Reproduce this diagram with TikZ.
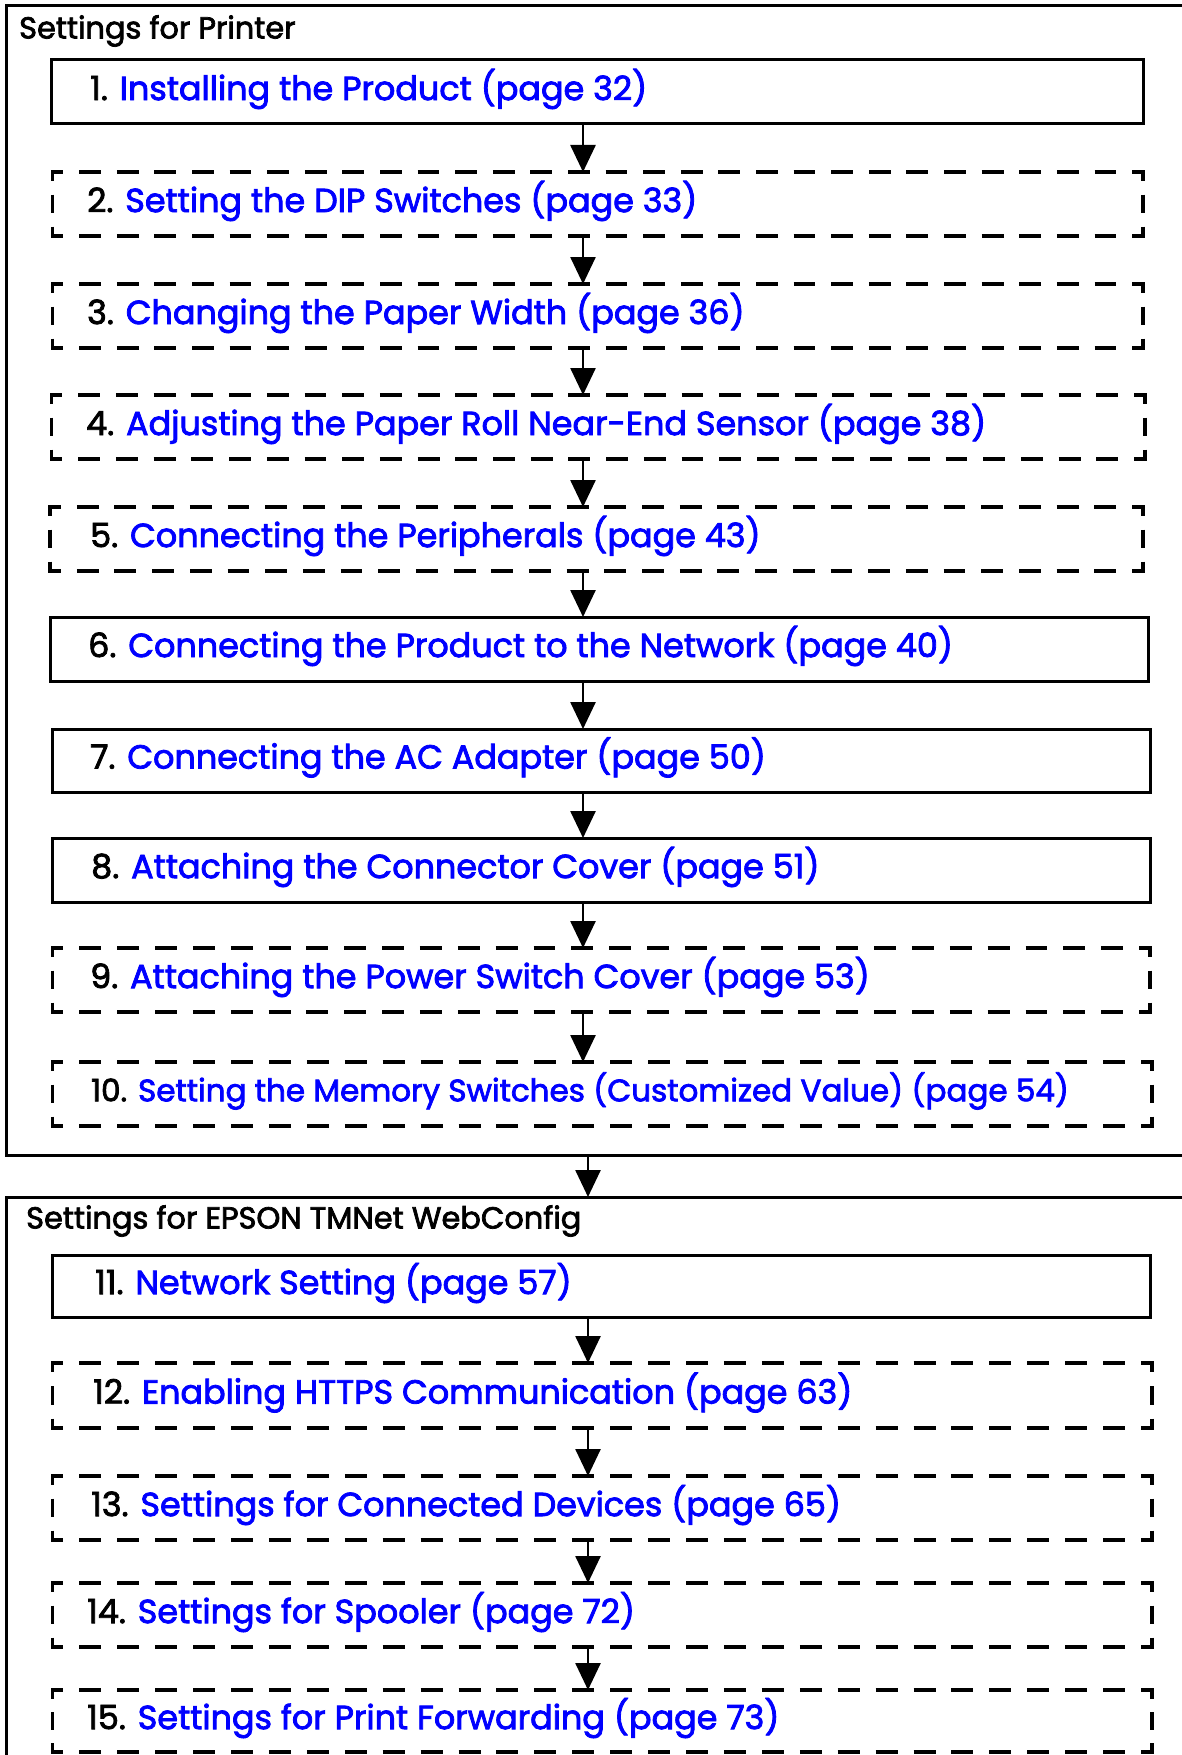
\documentclass[tikz,border=0pt]{standalone}
\usepackage{fontspec}
\setmainfont{Poppins}[FakeBold=2.4]
\usetikzlibrary{arrows.meta}
\definecolor{linkblue}{RGB}{0,0,255}
\newcommand\itemfnt{\fontsize{33.4}{40}\selectfont}
\newcommand\smallitemfnt{\fontsize{31}{36}\selectfont}
\newcommand\headfnt{\fontsize{30.4}{36}\selectfont}
\tikzset{
  x=1pt, y=-1pt,
  groupbox/.style={draw=black, line width=3pt, anchor=north west, inner sep=0pt, outer sep=0pt},
  boxshape/.style={anchor=north west, inner sep=0pt, outer sep=0pt},
  solidstep/.style={boxshape, draw=black, line width=3pt},
  edgeline/.style={draw=black, line width=3.2pt},
  steptext/.style={anchor=west, inner sep=0pt, font=\itemfnt},
  headtext/.style={anchor=west, inner sep=0pt, font=\headfnt},
  flowarrow/.style={draw=black, line width=2.6pt, -{Triangle[width=25pt,length=27pt]}},
}
% \mysolidframe{name}{x1}{y1}{w}{h}
\newcommand\mysolidframe[5]{%
  \node[solidstep, minimum width=#4pt, minimum height=#5pt] (#1) at (#2,#3) {};
}
% dashed side from (#1) to (#2) of length #3: half dash at each end
\newcommand\mydashside[3]{%
  \pgfmathsetmacro\nper{max(1,round(#3/38))}%
  \pgfmathsetmacro\per{#3/\nper}%
  \pgfmathsetmacro\don{\per*0.58}%
  \pgfmathsetmacro\doff{\per-\don}%
  \pgfmathsetmacro\dph{\don/2}%
  \draw[edgeline, dash pattern=on \don pt off \doff pt, dash phase=\dph pt] (#1) -- (#2);
}
% \mydashframe{name}{x1}{y1}{w}{h}
\newcommand\mydashframe[5]{%
  \node[boxshape, minimum width=#4pt, minimum height=#5pt] (#1) at (#2,#3) {};
  \mydashside{#1.north west}{#1.north east}{#4}
  \mydashside{#1.south west}{#1.south east}{#4}
  \mydashside{#1.north west}{#1.south west}{#5}
  \mydashside{#1.north east}{#1.south east}{#5}
  \draw[edgeline] ([xshift=9pt]#1.north west) -- (#1.north west) -- ([yshift=-8pt]#1.north west);
  \draw[edgeline] ([xshift=-9pt]#1.north east) -- (#1.north east) -- ([yshift=-8pt]#1.north east);
  \draw[edgeline] ([xshift=9pt]#1.south west) -- (#1.south west) -- ([yshift=8pt]#1.south west);
  \draw[edgeline] ([xshift=-9pt]#1.south east) -- (#1.south east) -- ([yshift=8pt]#1.south east);
}
% \mysteplabel{name}{textx offset}{number}{title}
\newcommand\mysteplabel[4]{%
  \node[steptext] (#1t) at ([xshift=#2pt,yshift=3pt]#1.west) {#3. \textcolor{linkblue}{#4}};
}
\begin{document}
\begin{tikzpicture}
\path[use as bounding box] (0,0) rectangle (1182,1755);
\clip (0,0) rectangle (1182,1755);
\fill[white] (0,0) rectangle (1182,1755);

\coordinate (ax1) at (583,0);
\coordinate (ax2) at (588,0);

% group 1
\node[groupbox, minimum width=1300pt, minimum height=1149pt] (g1) at (6,6) {};
\node[headtext] (h1) at (19,31) {Settings for Printer};

\mysolidframe{b1}{51.5}{60}{1091.5}{64}
\mysteplabel{b1}{38.5}{1}{Installing the Product (page 32)}
\mydashframe{b2}{52.5}{172}{1090.5}{64}
\mysteplabel{b2}{34.5}{2}{Setting the DIP Switches (page 33)}
\mydashframe{b3}{52.5}{284}{1090.5}{64}
\mysteplabel{b3}{34.5}{3}{Changing the Paper Width (page 36)}
\mydashframe{b4}{51.5}{395}{1093.5}{64}
\mysteplabel{b4}{34.5}{4}{Adjusting the Paper Roll Near-End Sensor (page 38)}
\mydashframe{b5}{50}{507}{1093}{64}
\mysteplabel{b5}{40}{5}{Connecting the Peripherals (page 43)}
\mysolidframe{b6}{50}{617}{1098}{64}
\mysteplabel{b6}{38}{6}{Connecting the Product to the Network (page 40)}
\mysolidframe{b7}{52.5}{729}{1097.5}{63}
\mysteplabel{b7}{37.5}{7}{Connecting the AC Adapter (page 50)}
\mysolidframe{b8}{52.5}{838}{1097.5}{64}
\mysteplabel{b8}{38.5}{8}{Attaching the Connector Cover (page 51)}
\mydashframe{b9}{52.5}{948}{1097.5}{64}
\mysteplabel{b9}{37.5}{9}{Attaching the Power Switch Cover (page 53)}
\mydashframe{b10}{52.5}{1062}{1099.5}{64}
\node[steptext, font=\smallitemfnt] (b10t) at ([xshift=38.5pt,yshift=3pt]b10.west) {10. \textcolor{linkblue}{Setting the Memory Switches (Customized Value) (page 54)}};

\foreach \a/\b in {b1/b2,b2/b3,b3/b4,b4/b5,b5/b6,b6/b7,b7/b8,b8/b9,b9/b10}
  \draw[flowarrow] (\a.south -| ax1) -- (\b.north -| ax1);

% group 2
\node[groupbox, minimum width=1300pt, minimum height=700pt] (g2) at (6,1197) {};
\node[headtext] (h2) at (26,1221) {Settings for EPSON TMNet WebConfig};
\draw[flowarrow] (g1.south -| ax2) -- (g2.north -| ax2);

\mysolidframe{b11}{52.5}{1255}{1097.5}{62}
\mysteplabel{b11}{42.5}{11}{Network Setting (page 57)}
\mydashframe{b12}{52.5}{1363}{1099.5}{65}
\mysteplabel{b12}{40.5}{12}{Enabling HTTPS Communication (page 63)}
\mydashframe{b13}{52.5}{1476}{1099.5}{64}
\mysteplabel{b13}{38.5}{13}{Settings for Connected Devices (page 65)}
\mydashframe{b14}{52.5}{1583}{1099.5}{64}
\mysteplabel{b14}{34.5}{14}{Settings for Spooler (page 72)}
\mydashframe{b15}{52.5}{1690}{1099.5}{62}
\mysteplabel{b15}{34.5}{15}{Settings for Print Forwarding (page 73)}

\foreach \a/\b in {b11/b12,b12/b13,b13/b14,b14/b15}
  \draw[flowarrow] (\a.south -| ax2) -- (\b.north -| ax2);
\end{tikzpicture}
\end{document}
